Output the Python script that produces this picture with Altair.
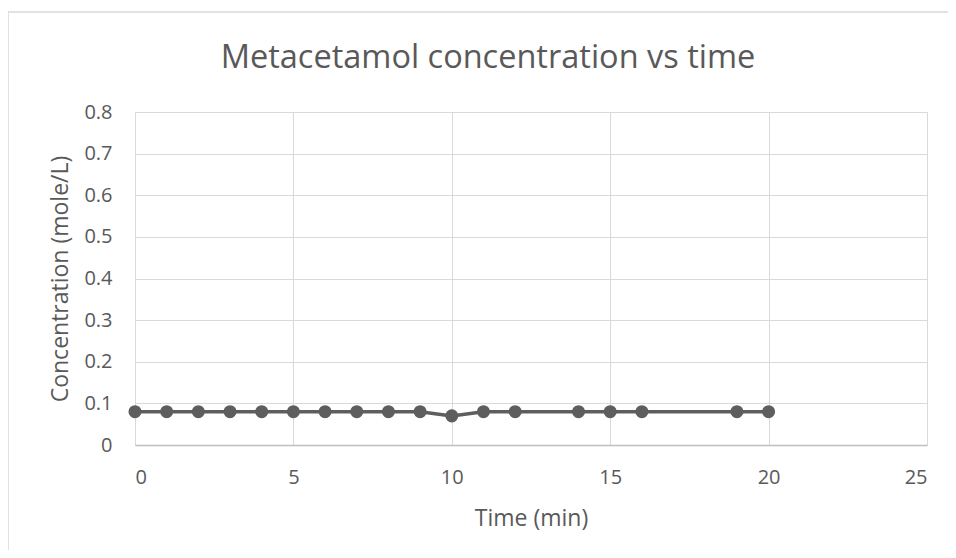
import altair as alt
import pandas as pd

time_min = [0, 1, 2, 3, 4, 5, 6, 7, 8, 9, 10, 11, 12, 14, 15, 16, 19, 20]
concentration = [0.08, 0.08, 0.08, 0.08, 0.08, 0.08, 0.08, 0.08, 0.08, 0.08,
                 0.07, 0.08, 0.08, 0.08, 0.08, 0.08, 0.08, 0.08]
x_ticks = [0, 5, 10, 15, 20, 25]
y_ticks = [0, 0.1, 0.2, 0.3, 0.4, 0.5, 0.6, 0.7, 0.8]
title_text = "Metacetamol concentration vs time"

df = pd.DataFrame({"Time (min)": time_min, "Concentration (mole/L)": concentration})

FONT = "Open Sans"
GREY = "#595959"
SERIES = "#5e5e5e"

x = alt.X("Time (min):Q",
          scale=alt.Scale(domain=[0, 25], nice=False),
          axis=alt.Axis(values=x_ticks, title="Time (min)", grid=True,
                        gridColor="#d9d9d9", domainColor="#bfbfbf", domainWidth=1.5,
                        ticks=False, labelPadding=22, labelFontSize=20,
                        labelColor=GREY, labelFont=FONT, titleFont=FONT,
                        titleFontSize=23, titleFontWeight="normal", titleColor=GREY,
                        titlePadding=20))
y = alt.Y("Concentration (mole/L):Q",
          scale=alt.Scale(domain=[0, 0.8], nice=False),
          axis=alt.Axis(values=y_ticks, title="Concentration (mole/L)", grid=True,
                        gridColor="#d9d9d9", domain=False, ticks=False,
                        labelPadding=23, labelFontSize=20, labelColor=GREY,
                        labelFont=FONT, titleFont=FONT, titleFontSize=23,
                        titleFontWeight="normal", titleColor=GREY, titlePadding=11,
                        format="~g"))

line = alt.Chart(df).mark_line(color=SERIES, strokeWidth=3.5).encode(x=x, y=y)
pts = alt.Chart(df).mark_circle(color=SERIES, size=170, opacity=1).encode(x=x, y=y)

one = pd.DataFrame({"t": [title_text]})
border_color = "#d9d9d9"
left = alt.Chart(one).mark_rule(color=border_color, strokeWidth=1.5, clip=False).encode(
    x=alt.value(-127), y=alt.value(-100), y2=alt.value(460))
top = alt.Chart(one).mark_rule(color=border_color, strokeWidth=1.5, clip=False).encode(
    x=alt.value(-127), x2=alt.value(830), y=alt.value(-100))
title = alt.Chart(one).mark_text(font=FONT, fontSize=32.5, color=GREY, align="center",
                                 baseline="alphabetic", clip=False).encode(
    text="t:N", x=alt.value(353), y=alt.value(-44))

chart = alt.layer(left, top, title, line, pts).properties(
    width=792, height=333,
    autosize=alt.AutoSizeParams(type="none"),
    padding={"left": 127, "top": 104, "right": 21, "bottom": 105},
).configure_view(stroke=None).configure(background="white")

chart.save("out.html", embed_options={"renderer": "svg", "actions": False})
